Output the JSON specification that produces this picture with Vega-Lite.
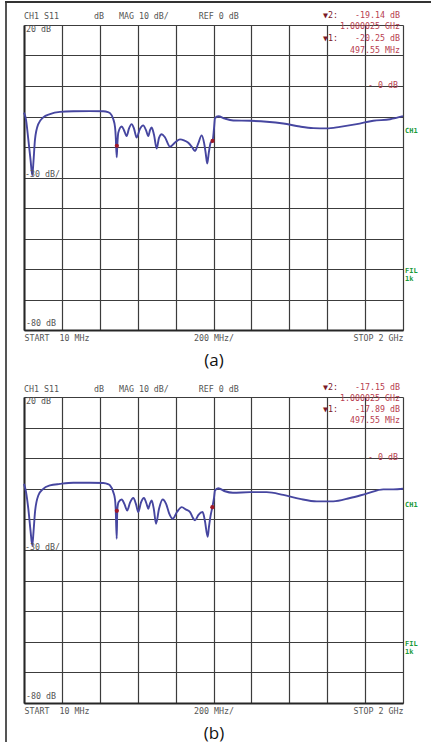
{
"$schema": "https://vega.github.io/schema/vega-lite/v6.json",
"background": "white",
"padding": {"left": 3, "top": 1, "right": 0, "bottom": 1},
"autosize": {"type": "pad"},
"config": {"view": {"stroke": null}},
"spacing": 67,
"bounds": "flush",
"datasets": {
"frameV": [{"f":-84.5,"db":27.54,"db2":-215.08}],
"frameH": [{"f":-89.8,"f2":2147,"db":27.54}],
"traceA": [
{"f":10,"db":-8.7},{"f":20.5,"db":-11},{"f":32.6,"db":-17.5},{"f":44,"db":-24},{"f":53.6,"db":-29.3},{"f":60,"db":-24.5},{"f":67.8,"db":-17.5},{"f":85,"db":-12.5},{"f":111,"db":-10.3},{"f":146.5,"db":-9.2},{"f":199,"db":-8.5},{"f":269,"db":-8.3},{"f":356.5,"db":-8.25},{"f":426,"db":-8.3},{"f":451,"db":-8.6},{"f":461.6,"db":-8.9},{"f":479,"db":-10.9},{"f":488,"db":-13.5},{"f":491.5,"db":-16.4},{"f":496.7,"db":-23.4},{"f":500,"db":-19.3},{"f":505,"db":-15.3},{"f":523,"db":-13.3},{"f":535,"db":-14.5},{"f":549,"db":-16.4},{"f":561,"db":-14},{"f":575,"db":-12.5},{"f":587.6,"db":-14},{"f":601.7,"db":-16.9},{"f":619,"db":-14},{"f":636,"db":-12.9},{"f":650.6,"db":-14.5},{"f":662.7,"db":-16.4},{"f":671.6,"db":-14.5},{"f":680.5,"db":-13.6},{"f":692.6,"db":-16},{"f":706.8,"db":-20.5},{"f":718.8,"db":-17},{"f":733,"db":-15.8},{"f":750,"db":-16.8},{"f":776.6,"db":-19.9},{"f":803,"db":-18.5},{"f":829,"db":-17.5},{"f":850,"db":-17.8},{"f":872.7,"db":-18.6},{"f":892,"db":-20},{"f":908,"db":-21.3},{"f":924,"db":-19},{"f":943,"db":-16.2},{"f":955,"db":-18.5},{"f":964,"db":-22},{"f":972,"db":-25.4},{"f":980,"db":-22},{"f":990,"db":-18.6},{"f":1000,"db":-18},{"f":1007.6,"db":-14},{"f":1012.9,"db":-10.5},{"f":1030,"db":-9.9},{"f":1065,"db":-10.7},{"f":1109,"db":-11.3},{"f":1197,"db":-11.4},{"f":1284,"db":-11.7},{"f":1371.5,"db":-12.3},{"f":1459,"db":-13.3},{"f":1529,"db":-13.8},{"f":1599,"db":-13.9},{"f":1669,"db":-13.4},{"f":1757,"db":-12.5},{"f":1844,"db":-11.4},{"f":1932,"db":-10.9},{"f":2000,"db":-9.9}
],
"traceB": [
{"f":10,"db":-8.4},{"f":20.5,"db":-11},{"f":32.6,"db":-16.5},{"f":44,"db":-23.5},{"f":53.6,"db":-28.5},{"f":60,"db":-24},{"f":67.8,"db":-17.6},{"f":85,"db":-12.2},{"f":111,"db":-10},{"f":146.5,"db":-8.9},{"f":199,"db":-8.4},{"f":269,"db":-8.0},{"f":356.5,"db":-8.0},{"f":426,"db":-8.1},{"f":451,"db":-8.5},{"f":461.6,"db":-8.9},{"f":479,"db":-11.1},{"f":488,"db":-13.5},{"f":491.5,"db":-16.5},{"f":496.7,"db":-26.3},{"f":500,"db":-16.7},{"f":507,"db":-14.3},{"f":523,"db":-13.5},{"f":537.5,"db":-15},{"f":552,"db":-17.1},{"f":566.6,"db":-14.5},{"f":584,"db":-13.0},{"f":598,"db":-15},{"f":610,"db":-17.6},{"f":624,"db":-14.5},{"f":640,"db":-13.0},{"f":653,"db":-14.8},{"f":662.7,"db":-16.5},{"f":671.6,"db":-14.8},{"f":680.5,"db":-13.8},{"f":692.6,"db":-17},{"f":703,"db":-21.4},{"f":719,"db":-16.5},{"f":738,"db":-13.5},{"f":756.6,"db":-15},{"f":772,"db":-18},{"f":791,"db":-19.8},{"f":814,"db":-17.5},{"f":838,"db":-16.0},{"f":861,"db":-16.8},{"f":882,"db":-17.6},{"f":897,"db":-19.5},{"f":908,"db":-20.3},{"f":926,"db":-18.5},{"f":948,"db":-17.6},{"f":960,"db":-20.5},{"f":974.5,"db":-25.7},{"f":981,"db":-22.5},{"f":990,"db":-18.7},{"f":999,"db":-16.0},{"f":1007.6,"db":-13},{"f":1012.9,"db":-10.5},{"f":1030,"db":-9.8},{"f":1065,"db":-10.8},{"f":1107,"db":-11.3},{"f":1197,"db":-11.1},{"f":1284,"db":-11.1},{"f":1371.5,"db":-12.0},{"f":1459,"db":-13.3},{"f":1547,"db":-14.1},{"f":1634,"db":-14.1},{"f":1722,"db":-13.0},{"f":1809,"db":-11.6},{"f":1897,"db":-10.2},{"f":1949,"db":-10.2},{"f":2000,"db":-10.0}
],
"markA": [{"f":497.55,"db":-19.6},{"f":1000,"db":-18.0}],
"markB": [{"f":497.55,"db":-17.2},{"f":999,"db":-16.0}],
"grayA": [
{"f":10,"db":22.6,"t":"CH1 S11\u00a0\u00a0\u00a0\u00a0\u00a0\u00a0\u00a0dB\u00a0\u00a0\u00a0MAG 10 dB/\u00a0\u00a0\u00a0\u00a0\u00a0\u00a0REF 0 dB"},
{"f":20.5,"db":18.4,"t":"20 dB"},
{"f":15,"db":-29.2,"t":"-30 dB/"},
{"f":20.5,"db":-77.9,"t":"-80 dB"}
],
"grayB": [
{"f":10,"db":22.4,"t":"CH1 S11\u00a0\u00a0\u00a0\u00a0\u00a0\u00a0\u00a0dB\u00a0\u00a0\u00a0MAG 10 dB/\u00a0\u00a0\u00a0\u00a0\u00a0\u00a0REF 0 dB"},
{"f":20.5,"db":18.4,"t":"20 dB"},
{"f":15,"db":-29.2,"t":"-30 dB/"},
{"f":20.5,"db":-77.9,"t":"-80 dB"}
],
"redA": [
{"f":1984,"db":23.05,"t":"-19.14 dB"},
{"f":1984,"db":19.25,"t":"1.000025 GHz"},
{"f":1984,"db":15.5,"t":"-20.25 dB"},
{"f":1984,"db":11.5,"t":"497.55 MHz"},
{"f":1974,"db":0,"t":"- 0 dB"}
],
"redB": [
{"f":1984,"db":22.8,"t":"-17.15 dB"},
{"f":1984,"db":19.2,"t":"1.000025 GHz"},
{"f":1984,"db":15.7,"t":"-17.89 dB"},
{"f":1984,"db":12.0,"t":"497.55 MHz"},
{"f":1974,"db":0,"t":"- 0 dB"}
],
"triA": [
{"f":1580,"db":23.05,"t":"\u25bc2:"},
{"f":1580,"db":15.5,"t":"\u25bc1:"}
],
"triB": [
{"f":1580,"db":22.8,"t":"\u25bc2:"},
{"f":1580,"db":15.7,"t":"\u25bc1:"}
],
"greenA": [
{"f":2010.5,"db":-14.75,"t":"CH1"},
{"f":2010.5,"db":-60.7,"t":"FIL"},
{"f":2010.5,"db":-63.3,"t":"1k"}
],
"greenB": [
{"f":2010.5,"db":-15.3,"t":"CH1"},
{"f":2010.5,"db":-60.7,"t":"FIL"},
{"f":2010.5,"db":-63.3,"t":"1k"}
]
},
"vconcat": [
{
"width": 379, "height": 305,
"encoding": {
"x": {"field":"f","type":"quantitative","scale":{"domain":[10,2000],"nice":false,"zero":false},
"axis":{"title":"(a)","values":[10,209,408,607,806,1005,1204,1403,1602,1801,2000],"grid":true,"gridColor":"#3c3c3c","gridWidth":1.2,"ticks":false,"domain":true,"domainColor":"#262626","domainWidth":2,"labelExpr":"datum.value == 10 ? 'START\u00a0\u00a010 MHz' : datum.value == 1005 ? '200 MHz/' : datum.value == 2000 ? 'STOP 2 GHz' : ''","labelFont":"DejaVu Sans Mono","labelFontSize":8.3,"labelColor":"#555555","labelPadding":3,"labelOverlap":false,"labelFlush":false,"labelBound":false,"labelAlign":{"condition":[{"test":"datum.value == 10","value":"left"},{"test":"datum.value == 2000","value":"right"}],"value":"center"},"titleFont":"Open Sans","titleFontSize":17,"titleFontWeight":"normal","titleColor":"#111111","titlePadding":11}},
"y": {"field":"db","type":"quantitative","scale":{"domain":[-80,20],"nice":false,"zero":false},
"axis":{"title":null,"values":[-80,-70,-60,-50,-40,-30,-20,-10,0,10,20],"grid":true,"gridColor":"#3c3c3c","gridWidth":1.2,"ticks":false,"labels":false,"domain":true,"domainColor":"#262626","domainWidth":2}}
},
"layer": [
{"data":{"values":[{}]},"mark":{"type":"rect","color":"white","clip":false},"encoding":{"x":{"datum":1574.7},"x2":{"datum":1989.5},"y":{"datum":21},"y2":{"datum":8.85}}},
{"data":{"name":"frameV"},"mark":{"type":"rule","color":"#555555","strokeWidth":2,"clip":false},"encoding":{"y2":{"field":"db2"}}},
{"data":{"name":"frameH"},"mark":{"type":"rule","color":"#333333","strokeWidth":2,"clip":false},"encoding":{"x2":{"field":"f2"}}},
{"data":{"name":"traceA"},"mark":{"type":"line","interpolate":"monotone","color":"#4646a0","strokeWidth":1.9}},
{"data":{"name":"markA"},"mark":{"type":"point","filled":true,"color":"#a01828","size":18,"opacity":1}},
{"data":{"name":"grayA"},"mark":{"type":"text","align":"left","baseline":"middle","font":"DejaVu Sans Mono","fontSize":8.3,"color":"#555555"},"encoding":{"text":{"field":"t"}}},
{"data":{"name":"redA"},"mark":{"type":"text","align":"right","baseline":"middle","font":"DejaVu Sans Mono","fontSize":8.3,"color":"#b8404f"},"encoding":{"text":{"field":"t"}}},
{"data":{"name":"triA"},"mark":{"type":"text","align":"left","baseline":"middle","font":"DejaVu Sans Mono","fontSize":8.3,"color":"#7a1828"},"encoding":{"text":{"field":"t"}}},
{"data":{"name":"greenA"},"mark":{"type":"text","align":"left","baseline":"middle","font":"DejaVu Sans Mono","fontSize":7,"fontWeight":"bold","color":"#1a9a3a"},"encoding":{"text":{"field":"t"}}}
]
},
{
"width": 379, "height": 306,
"encoding": {
"x": {"field":"f","type":"quantitative","scale":{"domain":[10,2000],"nice":false,"zero":false},
"axis":{"title":"(b)","values":[10,209,408,607,806,1005,1204,1403,1602,1801,2000],"grid":true,"gridColor":"#3c3c3c","gridWidth":1.2,"ticks":false,"domain":true,"domainColor":"#262626","domainWidth":2,"labelExpr":"datum.value == 10 ? 'START\u00a0\u00a010 MHz' : datum.value == 1005 ? '200 MHz/' : datum.value == 2000 ? 'STOP 2 GHz' : ''","labelFont":"DejaVu Sans Mono","labelFontSize":8.3,"labelColor":"#555555","labelPadding":3,"labelOverlap":false,"labelFlush":false,"labelBound":false,"labelAlign":{"condition":[{"test":"datum.value == 10","value":"left"},{"test":"datum.value == 2000","value":"right"}],"value":"center"},"titleFont":"Open Sans","titleFontSize":17,"titleFontWeight":"normal","titleColor":"#111111","titlePadding":11}},
"y": {"field":"db","type":"quantitative","scale":{"domain":[-80,20],"nice":false,"zero":false},
"axis":{"title":null,"values":[-80,-70,-60,-50,-40,-30,-20,-10,0,10,20],"grid":true,"gridColor":"#3c3c3c","gridWidth":1.2,"ticks":false,"labels":false,"domain":true,"domainColor":"#262626","domainWidth":2}}
},
"layer": [
{"data":{"values":[{}]},"mark":{"type":"rect","color":"white","clip":false},"encoding":{"x":{"datum":1574.7},"x2":{"datum":1989.5},"y":{"datum":21},"y2":{"datum":8.85}}},
{"data":{"name":"traceB"},"mark":{"type":"line","interpolate":"monotone","color":"#4646a0","strokeWidth":1.9}},
{"data":{"name":"markB"},"mark":{"type":"point","filled":true,"color":"#a01828","size":18,"opacity":1}},
{"data":{"name":"grayB"},"mark":{"type":"text","align":"left","baseline":"middle","font":"DejaVu Sans Mono","fontSize":8.3,"color":"#555555"},"encoding":{"text":{"field":"t"}}},
{"data":{"name":"redB"},"mark":{"type":"text","align":"right","baseline":"middle","font":"DejaVu Sans Mono","fontSize":8.3,"color":"#b8404f"},"encoding":{"text":{"field":"t"}}},
{"data":{"name":"triB"},"mark":{"type":"text","align":"left","baseline":"middle","font":"DejaVu Sans Mono","fontSize":8.3,"color":"#7a1828"},"encoding":{"text":{"field":"t"}}},
{"data":{"name":"greenB"},"mark":{"type":"text","align":"left","baseline":"middle","font":"DejaVu Sans Mono","fontSize":7,"fontWeight":"bold","color":"#1a9a3a"},"encoding":{"text":{"field":"t"}}}
]
}
]
}
